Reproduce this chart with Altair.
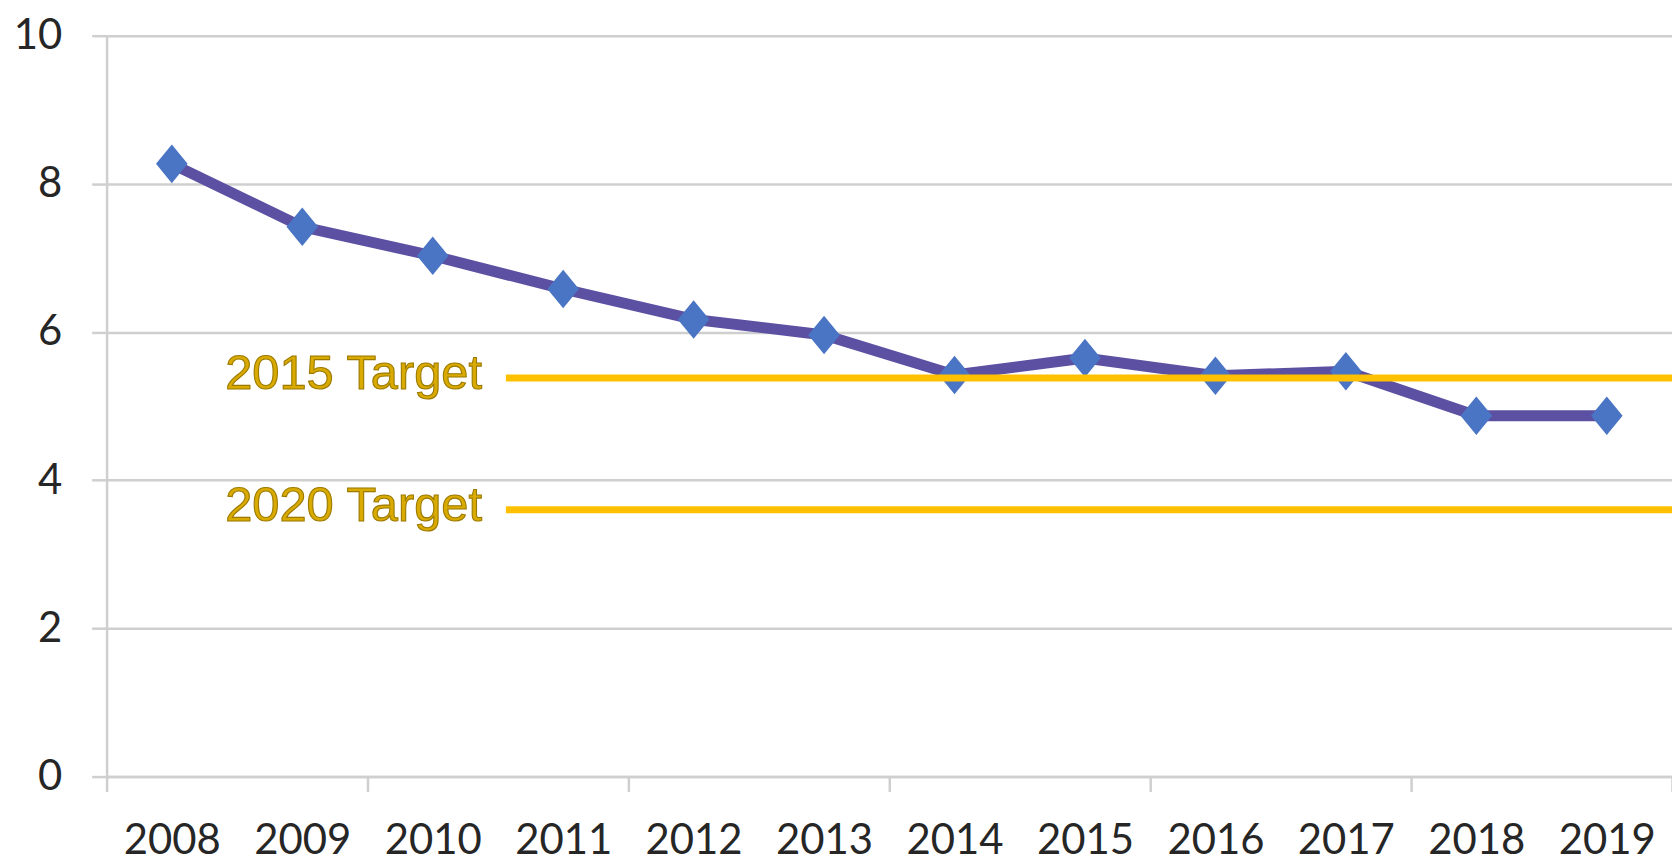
import altair as alt
import pandas as pd

years = ["2008", "2009", "2010", "2011", "2012", "2013",
         "2014", "2015", "2016", "2017", "2018", "2019"]
values = [8.27, 7.42, 7.03, 6.58, 6.17, 5.96, 5.42, 5.65, 5.41, 5.47, 4.87, 4.87]

target_labels = ["2015 Target", "2020 Target"]
target_values = [5.38, 3.60]

y_ticks = [0, 2, 4, 6, 8, 10]
tick_years = years[1::2]

df = pd.DataFrame({"year": years, "value": values})
tdf = pd.DataFrame({"label": target_labels, "target": target_values})

GRID = "#CFCFCF"

tick_test = "datum.extra || indexof([" + ",".join("'%s'" % y for y in tick_years) + "], datum.value) >= 0"

x_enc = alt.X(
    "year:O",
    sort=years,
    scale=alt.Scale(type="band", paddingInner=0, paddingOuter=0),
    axis=alt.Axis(
        title=None,
        labelAngle=0,
        labelFont="Lato",
        labelFontSize=42,
        labelColor="#262626",
        labelPadding=29,
        tickBand="extent",
        tickSize=15,
        tickColor=GRID,
        tickWidth=2.5,
        tickOpacity={"condition": {"test": tick_test, "value": 1}, "value": 0},
        domainColor=GRID,
        domainWidth=2.5,
        grid=False,
    ),
)

y_enc = alt.Y(
    "value:Q",
    scale=alt.Scale(domain=[0, 10], nice=False, zero=True),
    axis=alt.Axis(
        title=None,
        values=y_ticks,
        format="d",
        labelFont="Lato",
        labelFontSize=42,
        labelColor="#262626",
        labelPadding=30,
        tickSize=15,
        tickColor=GRID,
        tickWidth=2.5,
        domainColor=GRID,
        domainWidth=2.5,
        grid=True,
        gridColor=GRID,
        gridWidth=2.5,
    ),
)

line = alt.Chart(df).mark_line(color="#5C50A3", strokeWidth=11).encode(x=x_enc, y=y_enc)

points = alt.Chart(df).mark_point(
    shape="M-0.82,0L0,-1L0.82,0L0,1Z",
    filled=True,
    opacity=1,
    color="#4A74C4",
    size=1500,
).encode(x=alt.X("year:O", sort=years), y="value:Q")

rules = alt.Chart(tdf).mark_rule(color="#FFC000", strokeWidth=7, xOffset=8).encode(
    x=alt.XDatum("2011", type="ordinal", bandPosition=0),
    x2=alt.X2Datum("2019", bandPosition=1),
    y=alt.Y("target:Q"),
)

labels = alt.Chart(tdf).mark_text(
    align="right",
    baseline="middle",
    dx=-16,
    dy=-4,
    font="Liberation Sans",
    fontSize=49,
    color="#D9AA00",
    stroke="#9C7A00",
    strokeWidth=1.1,
).encode(
    x=alt.XDatum("2011", type="ordinal", bandPosition=0),
    y=alt.Y("target:Q"),
    text="label:N",
)

chart = alt.layer(line, points, rules, labels).properties(
    width=1572,
    height=744,
    autosize=alt.AutoSizeParams(type="none"),
    padding={"left": 99, "top": 26, "right": 0, "bottom": 86},
    background="white",
).configure_view(stroke=None)

chart.save("out.html", embed_options={"renderer": "svg", "actions": False})
